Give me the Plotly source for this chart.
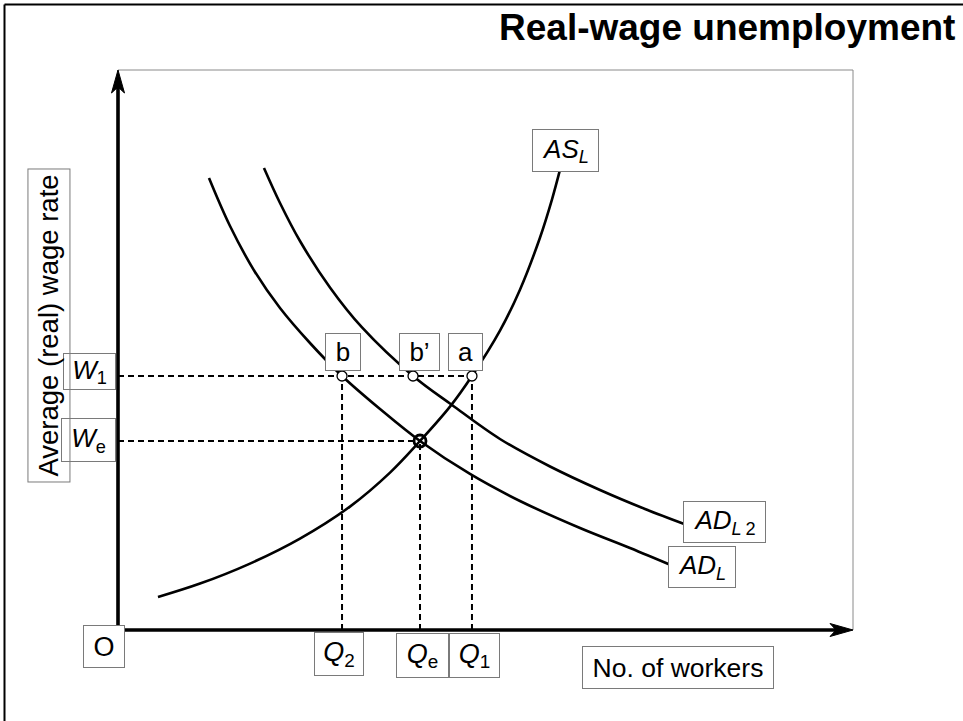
import plotly.graph_objects as go

# ---------------- data (x: number of workers 0-100, y: real wage 0-100) ----------------
as_x = [5.44, 11.16, 17.96, 24.76, 31.56, 37.01, 41.09, 45.17, 48.16, 51.97, 54.69, 57.41, 59.05, 60.14]
as_y = [5.89, 8.29, 11.86, 16.32, 22.04, 28.11, 33.75, 39.89, 45.36, 53.45, 60.77, 70.05, 76.91, 82.20]

adl_x = [12.38, 15.24, 18.64, 22.04, 26.12, 30.48, 35.65, 41.09, 47.89, 54.69, 62.86, 69.66, 75.51]
adl_y = [80.71, 72.14, 63.93, 57.50, 51.25, 45.36, 39.46, 33.75, 27.86, 23.04, 18.21, 14.64, 11.43]

adl2_x = [19.86, 22.04, 24.76, 28.84, 33.20, 40.14, 45.44, 51.97, 58.78, 65.58, 71.70, 77.41]
adl2_y = [82.50, 76.25, 69.46, 61.16, 54.02, 45.36, 40.18, 34.11, 29.20, 25.00, 21.61, 18.75]

q_values = {"Q2": 30.48, "Qb": 40.14, "Qe": 41.09, "Q1": 48.16}
w_values = {"W1": 45.36, "We": 33.75}

point_labels = ["b", "b’", "a"]
point_x = [q_values["Q2"], q_values["Qb"], q_values["Q1"]]
point_y = [w_values["W1"]] * 3

# ---------------- layout geometry ----------------
W, H = 963, 721
X_RANGE = [-16.054, 114.966]
Y_RANGE = [-16.25, 112.5]
PX_X = 7.35   # pixels per x unit
PX_Y = 5.6    # pixels per y unit
FONT = "Liberation Sans, Arial, Helvetica, sans-serif"
BOX = "#7a7a7a"

fig = go.Figure()

curve_style = dict(color="black", width=2.6)
for xs, ys in [(as_x, as_y), (adl_x, adl_y), (adl2_x, adl2_y)]:
    fig.add_trace(go.Scatter(x=xs, y=ys, mode="lines",
                             line=dict(shape="spline", smoothing=1.0, **curve_style),
                             hoverinfo="skip", showlegend=False))

dash = dict(color="black", width=2, dash="6px,4px")
W1, We = w_values["W1"], w_values["We"]
Q1, Q2, Qe = q_values["Q1"], q_values["Q2"], q_values["Qe"]
dashed = [
    ([0, Q1], [W1, W1]),
    ([0, Qe], [We, We]),
    ([Q2, Q2], [0, W1]),
    ([Qe, Qe], [0, We]),
    ([Q1, Q1], [0, W1]),
]
for xs, ys in dashed:
    fig.add_trace(go.Scatter(x=xs, y=ys, mode="lines", line=dash,
                             hoverinfo="skip", showlegend=False))

fig.add_trace(go.Scatter(x=point_x, y=point_y, mode="markers",
                         marker=dict(symbol="circle", size=10, color="white",
                                     line=dict(color="black", width=1.3)),
                         hoverinfo="skip", showlegend=False))
fig.add_trace(go.Scatter(x=[Qe], y=[We], mode="markers",
                         marker=dict(symbol="circle-open", size=12, color="black",
                                     line=dict(color="black", width=2.8)),
                         hoverinfo="skip", showlegend=False))

shapes = []
# inner gray frame
shapes.append(dict(type="rect", xref="x", yref="y", x0=0, y0=0, x1=100, y1=100,
                   line=dict(color="#8a8a8a", width=1), layer="below"))
# axes with arrowheads
ytop = 100 - 15 / PX_Y
xend = 100 - 15 / PX_X
shapes.append(dict(type="path", xref="x", yref="y",
                   path=f"M 0,{ytop} L 0,0 L {xend},0",
                   line=dict(color="black", width=3.6)))
shapes.append(dict(type="path", xref="x", yref="y", xsizemode="pixel", ysizemode="pixel",
                   xanchor=0, yanchor=100,
                   path="M 0,0 L -6.5,-23 L 0,-17 L 6.5,-23 Z",
                   fillcolor="black", line=dict(color="black", width=1)))
shapes.append(dict(type="path", xref="x", yref="y", xsizemode="pixel", ysizemode="pixel",
                   xanchor=100, yanchor=0,
                   path="M 0,0 L -23,6.5 L -17,0 L -23,-6.5 Z",
                   fillcolor="black", line=dict(color="black", width=1)))
# outer frame (top & left)
fx, fy = 4.5 / W, 1 - 4.5 / H
shapes.append(dict(type="line", xref="paper", yref="paper", x0=fx, y0=fy, x1=1.01, y1=fy,
                   line=dict(color="black", width=2)))
shapes.append(dict(type="line", xref="paper", yref="paper", x0=fx, y0=fy, x1=fx, y1=-0.01,
                   line=dict(color="black", width=2)))

# boxed labels: (text, x, y, box width px, box height px, font size)
labels = [
    ("<i>AS</i><sub><i>L</i></sub>", 60.88, 85.63, 67, 43, 26),
    ("<i>AD</i><sub><i>L</i>\u20092</sub>", 82.52, 19.29, 83, 42, 26),
    ("<i>AD</i><sub><i>L</i></sub>", 79.46, 11.25, 68, 42, 26),
    ("b", 30.61, 49.64, 36, 38, 26),
    ("b’", 41.02, 49.64, 41, 38, 26),
    ("a", 47.28, 49.64, 35, 38, 26),
    ("<i>W</i><sub>1</sub>", -3.88, 46.25, 53, 37, 26),
    ("<i>W</i><sub>e</sub>", -4.01, 33.93, 55, 44, 26),
    ("O", -1.90, -2.95, 42, 43, 27),
    ("<i>Q</i><sub>2</sub>", 30.07, -4.29, 50, 44, 27),
    ("<i>Q</i><sub>e</sub>", 41.43, -4.55, 53, 45, 27),
    ("<i>Q</i><sub>1</sub>", 48.50, -4.55, 51, 45, 27),
    ("No. of workers", 76.19, -6.70, 192, 43, 26.5),
]
annotations = []
for text, x, y, bw, bh, fs in labels:
    annotations.append(dict(text=text, x=x, y=y, xref="x", yref="y", showarrow=False,
                            xanchor="center", yanchor="middle",
                            width=bw - 2, height=bh - 2, borderpad=0, borderwidth=1,
                            bordercolor=BOX, bgcolor="white", align="center", valign="middle",
                            font=dict(family=FONT, size=fs, color="black")))
# y axis title (rotated box)
annotations.append(dict(text="Average (real) wage rate", x=-9.46, y=54.46, xref="x", yref="y",
                        showarrow=False, textangle=-90, xanchor="center", yanchor="middle",
                        width=314 - 2, height=43 - 2, borderpad=0, borderwidth=1,
                        bordercolor=BOX, align="center", valign="middle",
                        font=dict(family=FONT, size=27.5, color="black")))
# title
annotations.append(dict(text="<b>Real-wage unemployment</b>", x=957 / W, y=1 - 28 / H,
                        xref="paper", yref="paper", showarrow=False,
                        xanchor="right", yanchor="middle",
                        font=dict(family=FONT, size=37, color="black")))

fig.update_layout(
    width=W, height=H,
    margin=dict(l=0, r=0, t=0, b=0),
    paper_bgcolor="white", plot_bgcolor="white",
    xaxis=dict(range=X_RANGE, visible=False, fixedrange=True),
    yaxis=dict(range=Y_RANGE, visible=False, fixedrange=True),
    shapes=shapes, annotations=annotations, showlegend=False,
)
fig.write_html("out.html", config={"displayModeBar": False},
               post_script="document.body.style.margin='0';document.body.style.overflow='hidden';")
